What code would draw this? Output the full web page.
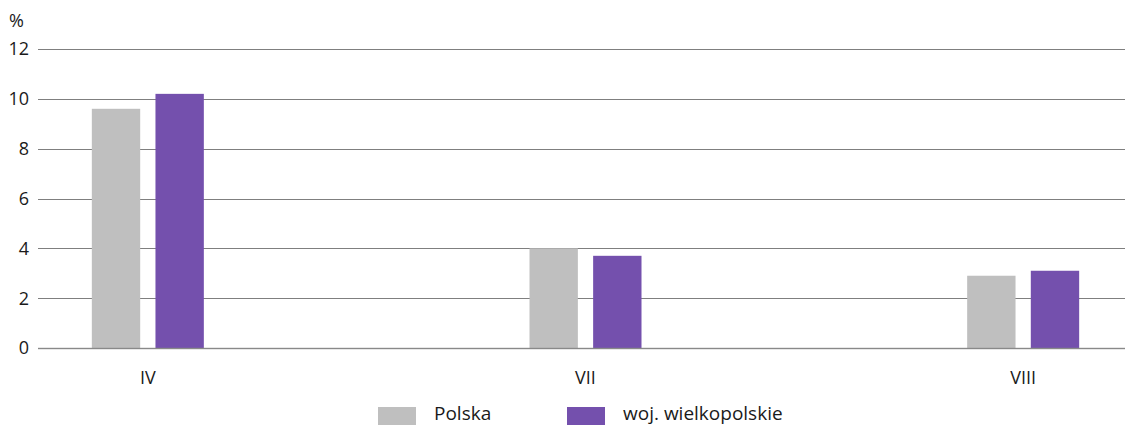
<!DOCTYPE html>
<html>
<head>
<meta charset="utf-8">
<script src="https://cdn.jsdelivr.net/npm/d3@7"></script>
<style>
  body { margin: 0; background: #fff; }
  text { font-family: 'Open Sans', sans-serif; fill: #1a1a1a; }
</style>
</head>
<body>
<div id="chart"></div>
<script>
const categories = ['IV', 'VII', 'VIII'];
const seriesNames = ['Polska', 'woj. wielkopolskie'];
const polska = [9.6, 4.0, 2.9];
const wielkopolskie = [10.2, 3.7, 3.1];
const yTicks = [0, 2, 4, 6, 8, 10, 12];
const colors = ['#bfbfbf', '#7450ad'];

const width = 1125;
const height = 425;
const margin = { top: 49, right: 0, bottom: 77, left: 38 };

const svg = d3
  .select('#chart')
  .append('svg')
  .attr('width', width)
  .attr('height', height);

const yScale = d3
  .scaleLinear()
  .domain([0, 12])
  .range([height - margin.bottom, margin.top]);

// category centres are spread wider than the plot, like the original
const xScale = d3
  .scaleBand()
  .domain(categories)
  .range([-71, 1242])
  .paddingInner(0)
  .paddingOuter(0);

const subScale = d3
  .scaleBand()
  .domain(seriesNames)
  .range([-56, 56])
  .paddingInner(0.24);

// gridlines
svg
  .append('g')
  .selectAll('line')
  .data(yTicks)
  .join('line')
  .attr('x1', margin.left)
  .attr('x2', width)
  .attr('y1', (d) => Math.round(yScale(d)) + 0.5)
  .attr('y2', (d) => Math.round(yScale(d)) + 0.5)
  .attr('stroke', '#7f7f7f')
  .attr('stroke-width', 1.2);

// y labels
svg
  .append('g')
  .selectAll('text')
  .data(yTicks)
  .join('text')
  .attr('x', 29)
  .attr('y', (d) => yScale(d))
  .attr('dy', '0.36em')
  .attr('text-anchor', 'end')
  .style('font-size', '18px')
  .text((d) => d);

svg
  .append('text')
  .attr('x', 9)
  .attr('y', 27)
  .style('font-size', '18px')
  .text('%');

// bars
const data = [];
categories.forEach((c, i) => {
  data.push({ cat: c, series: seriesNames[0], value: polska[i] });
  data.push({ cat: c, series: seriesNames[1], value: wielkopolskie[i] });
});

svg
  .append('g')
  .selectAll('rect')
  .data(data)
  .join('rect')
  .attr('x', (d) => xScale(d.cat) + xScale.bandwidth() / 2 + subScale(d.series))
  .attr('y', (d) => yScale(d.value))
  .attr('width', subScale.bandwidth())
  .attr('height', (d) => yScale(0) - yScale(d.value))
  .attr('fill', (d) => colors[seriesNames.indexOf(d.series)]);

// zero line over bars
svg
  .append('line')
  .attr('x1', margin.left)
  .attr('x2', width)
  .attr('y1', Math.round(yScale(0)) + 0.5)
  .attr('y2', Math.round(yScale(0)) + 0.5)
  .attr('stroke', '#8c8c8c')
  .attr('stroke-width', 1.5)
  .attr('opacity', 0.8);

// x labels
svg
  .append('g')
  .selectAll('text')
  .data(categories)
  .join('text')
  .attr('x', (d) => xScale(d) + xScale.bandwidth() / 2)
  .attr('y', 384)
  .attr('text-anchor', 'middle')
  .style('font-size', '18px')
  .text((d) => d);

// legend
const legendX = [378, 567];
const legend = svg
  .append('g')
  .selectAll('g')
  .data(seriesNames)
  .join('g')
  .attr('transform', (d, i) => `translate(${legendX[i]}, 407)`);

legend
  .append('rect')
  .attr('width', 38)
  .attr('height', 18)
  .attr('fill', (d, i) => colors[i]);

legend
  .append('text')
  .attr('x', 56)
  .attr('y', 13)
  .style('font-size', '19px')
  .text((d) => d);
</script>
</body>
</html>
